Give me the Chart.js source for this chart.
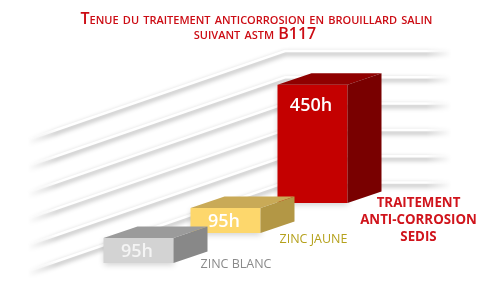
<!DOCTYPE html>
<html lang="fr">
<head>
<meta charset="utf-8">
<title>Tenue en brouillard salin</title>
<script src="https://cdn.jsdelivr.net/npm/chart.js@4.4.1/dist/chart.umd.min.js"></script>
<style>
  html, body { margin: 0; padding: 0; background: #fff; }
  #chart-box { width: 500px; height: 300px; }
</style>
</head>
<body>
<div id="chart-box"><canvas id="my-chart"></canvas></div>
<script>
'use strict';

// ******* DATA *********
let categories = ['ZINC BLANC', 'ZINC JAUNE', ['TRAITEMENT', 'ANTI-CORROSION', 'SEDIS']];
let hours = [95, 95, 450];
let gridValues = [0, 100, 200, 300, 400, 500];
let titleLines = ['Tenue du traitement anticorrosion en brouillard salin', 'suivant astm B117'];
let unit = 'h';

// ******* STYLES *********
let boxColors = [
  { front: '#d3d3d3', top: '#9b9b9b', side: '#888888', text: '#f4f4f4' },
  { front: '#fdd76c', top: '#c9aa57', side: '#b39745', text: '#ffffff' },
  { front: '#c40000', top: '#8f0000', side: '#790000', text: '#ffffff' }
];
let labelSpots = [
  { dx: 27, dy: 1.5, align: 'left', font: '400 12.5px "Open Sans"', color: '#8a8a8a' },
  { dx: 19, dy: 6, align: 'left', font: '400 12.5px "Open Sans"', color: '#b5a11c' },
  { dx: 71, dy: 0, align: 'center', font: '700 13.3px "Open Sans"', color: '#d0141c' }
];
let depth = { dx: 34, dy: -11.5, step: 30 };
let wall = { left: 27, corner: 285, right: 452, drop: 89, lift: 20.5 };
let titleColor = '#cc0c14';

// ******* CANVAS ELEMENT FOR CHART *****
let ctx = document.getElementById('my-chart');

// ****** HELPER FUNCTIONS ******
function drawWall(chart) {
  let c = chart.ctx;
  let yScale = chart.scales.y;
  c.save();
  let grad = c.createLinearGradient(wall.left, 0, wall.right, 0);
  grad.addColorStop(0, 'rgba(255,255,255,0)');
  grad.addColorStop(0.07, 'rgba(255,255,255,1)');
  grad.addColorStop(0.94, 'rgba(255,255,255,1)');
  grad.addColorStop(1, 'rgba(255,255,255,0)');
  c.strokeStyle = grad;
  c.lineWidth = 2.5;
  c.shadowColor = 'rgba(0,0,0,0.4)';
  c.shadowBlur = 5;
  c.shadowOffsetY = 2.5;
  gridValues.forEach(v => {
    let y = yScale.getPixelForValue(v) - wall.lift;
    c.beginPath();
    c.moveTo(wall.left, y + wall.drop);
    c.lineTo(wall.corner, y);
    c.lineTo(wall.right, y);
    c.stroke();
  });
  c.restore();
}

function face(c, points, color) {
  c.beginPath();
  c.moveTo(points[0][0], points[0][1]);
  for (let i = 1; i < points.length; i++) {
    c.lineTo(points[i][0], points[i][1]);
  }
  c.closePath();
  c.fillStyle = color;
  c.fill();
}

function drawBoxes(chart) {
  let c = chart.ctx;
  let bars = chart.getDatasetMeta(0).data;
  let last = bars.length - 1;
  c.save();
  // back to front so the lower bars sit over the tall one
  for (let i = last; i >= 0; i--) {
    let bar = bars[i].getProps(['x', 'y', 'base', 'width'], true);
    let drop = (last - i) * depth.step;
    let left = bar.x - bar.width / 2;
    let right = bar.x + bar.width / 2;
    let top = bar.y + drop;
    let bottom = bar.base + drop;
    let col = boxColors[i];

    c.shadowColor = 'rgba(0,0,0,0.18)';
    c.shadowBlur = 6;
    c.shadowOffsetY = 2;
    face(c, [[left, top], [right, top], [right, bottom], [left, bottom]], col.front);
    c.shadowColor = 'transparent';
    face(c, [[left, top], [left + depth.dx, top + depth.dy], [right + depth.dx, top + depth.dy], [right, top]], col.top);
    face(c, [[right, top], [right + depth.dx, top + depth.dy], [right + depth.dx, bottom + depth.dy], [right, bottom]], col.side);

    // value on the front face
    c.fillStyle = col.text;
    c.font = '600 18px "Open Sans"';
    c.textAlign = 'center';
    c.textBaseline = 'middle';
    c.fillText(hours[i] + unit, bar.x - 1.5, top + Math.min((bottom - top) / 2, 20) + 1.5);

    // category name beside the box
    let spot = labelSpots[i];
    let lines = [].concat(categories[i]);
    c.fillStyle = spot.color;
    c.font = spot.font;
    c.textAlign = spot.align;
    lines.forEach((txt, k) => {
      c.fillText(txt, right + spot.dx, bottom + spot.dy + k * 17);
    });
  }
  c.restore();
}

function drawTitle(chart) {
  let c = chart.ctx;
  c.save();
  c.font = 'small-caps 600 16px "Open Sans"';
  if ('fontVariantCaps' in c) {
    c.fontVariantCaps = 'small-caps';
  }
  c.fillStyle = titleColor;
  c.textAlign = 'center';
  c.textBaseline = 'alphabetic';
  c.fillText(titleLines[0], 256.5, 24);
  c.fillText(titleLines[1], 255, 38.5);
  c.restore();
}

let box3d = {
  id: 'box3d',
  beforeDatasetsDraw(chart) { drawWall(chart); },
  afterDatasetsDraw(chart) { drawBoxes(chart); },
  afterDraw(chart) { drawTitle(chart); }
};

// ****** RENDER CHART *****
let chartObj = {
  type: 'bar',
  data: {
    labels: categories,
    datasets: [{
      label: 'Heures',
      data: hours,
      backgroundColor: 'rgba(0,0,0,0)',
      borderWidth: 0,
      barThickness: 70
    }]
  },
  options: {
    responsive: true,
    maintainAspectRatio: false,
    animation: false,
    layout: {
      padding: { left: 95, right: 144, top: 71.5, bottom: 97 }
    },
    plugins: {
      legend: { display: false },
      title: { display: false },
      tooltip: { enabled: false }
    },
    scales: {
      x: { display: false },
      y: { display: false, min: 0, max: 500 }
    }
  },
  plugins: [box3d]
};

new Chart(ctx, chartObj); //eslint-disable-line
</script>
</body>
</html>
